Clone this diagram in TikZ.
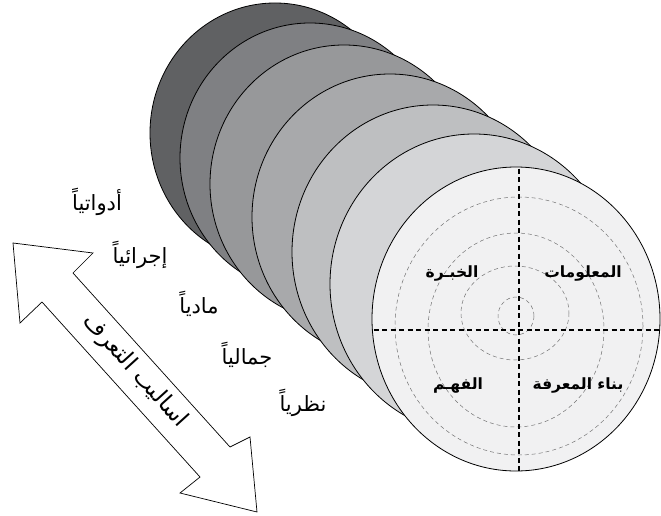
\documentclass[tikz,border=0pt]{standalone}
\usepackage{fontspec}
\newfontfamily\arabicfont[Script=Arabic]{DejaVu Sans}
\TeXXeTstate=1
\definecolor{dA}{HTML}{606163}
\definecolor{dB}{HTML}{7F8083}
\definecolor{dC}{HTML}{97989A}
\definecolor{dD}{HTML}{A8A9AB}
\definecolor{dE}{HTML}{BEBFC1}
\definecolor{dF}{HTML}{D4D5D7}
\definecolor{dG}{HTML}{F1F1F2}
\tikzset{
  disc/.style={draw=black, line width=0.8pt},
  guide/.style={draw=black, line width=1.7pt, dash pattern=on 5pt off 3.5pt},
  ring/.style={draw=black!55, line width=0.5pt, dash pattern=on 4pt off 3pt},
  sidelabel/.style={font=\arabicfont\fontsize{21}{23}\selectfont, inner sep=0pt},
  facelabel/.style={font=\arabicfont\bfseries\fontsize{15.5}{18}\selectfont, inner sep=0pt},
  arrowlabel/.style={font=\arabicfont\fontsize{23}{25}\selectfont, inner sep=0pt},
  bigarrow/.style={draw=black, line width=0.7pt, fill=white},
}
\begin{document}
\begin{tikzpicture}[x=1pt,y=-1pt]
\useasboundingbox (0,0) rectangle (661,516);
% stacked discs, back to front
\fill[dA] (275,133) ellipse [x radius=125, y radius=130];
\draw[disc] (275,133) ellipse [x radius=125, y radius=130];
\fill[dB] (310,158) ellipse [x radius=130, y radius=135];
\draw[disc] (310,158) ellipse [x radius=130, y radius=135];
\fill[dC] (344,184) ellipse [x radius=134, y radius=139];
\draw[disc] (344,184) ellipse [x radius=134, y radius=139];
\fill[dD] (390,217) ellipse [x radius=138, y radius=143];
\draw[disc] (390,217) ellipse [x radius=138, y radius=143];
\fill[dE] (433,252) ellipse [x radius=141, y radius=147];
\draw[disc] (433,252) ellipse [x radius=141, y radius=147];
\fill[dF] (474,284) ellipse [x radius=144, y radius=150];
\draw[disc] (474,284) ellipse [x radius=144, y radius=150];
\fill[dG] (516,319) ellipse [x radius=144, y radius=152];
% rings and guides on the front disc
\begin{scope}
  \clip (516,319) ellipse [x radius=144, y radius=152];
  \draw[ring] (516,316) ellipse [x radius=18, y radius=19];
  \draw[ring] (515,313) ellipse [x radius=54, y radius=47];
  \draw[ring] (516,330) ellipse [x radius=88, y radius=97];
  \draw[ring] (519,326) ellipse [x radius=124, y radius=129];
  \draw[guide] (519,160) -- (519,480);
  \draw[guide] (365,330) -- (670,330);
\end{scope}
\draw[disc] (516,319) ellipse [x radius=144, y radius=152];
% face labels
\node[facelabel] (info) at (583,274) {\beginR المعلومات\endR};
\node[facelabel] (expr) at (452,274) {\beginR الخبـرة\endR};
\node[facelabel] (build) at (578,386) {\beginR بناء المعرفة\endR};
\node[facelabel] (under) at (458,386) {\beginR الفهـم\endR};
% side labels
\node[sidelabel] (l1) at (97,202) {\beginR أدواتياً\endR};
\node[sidelabel] (l2) at (140,255) {\beginR إجرائياً\endR};
\node[sidelabel] (l3) at (199,304) {\beginR مادياً\endR};
\node[sidelabel] (l4) at (247,355) {\beginR جمالياً\endR};
\node[sidelabel] (l5) at (303,403) {\beginR نظرياً\endR};
% double arrow
\draw[bigarrow] (13,243) -- (93,253) -- (73,273) -- (230,447) -- (250,437)
  -- (257,512) -- (180,493) -- (200,477) -- (42,302) -- (20,323) -- cycle;
\node[arrowlabel, rotate=-47.8] (ways) at (135,371) {\beginR اساليب التعرف\endR};
\end{tikzpicture}
\end{document}
